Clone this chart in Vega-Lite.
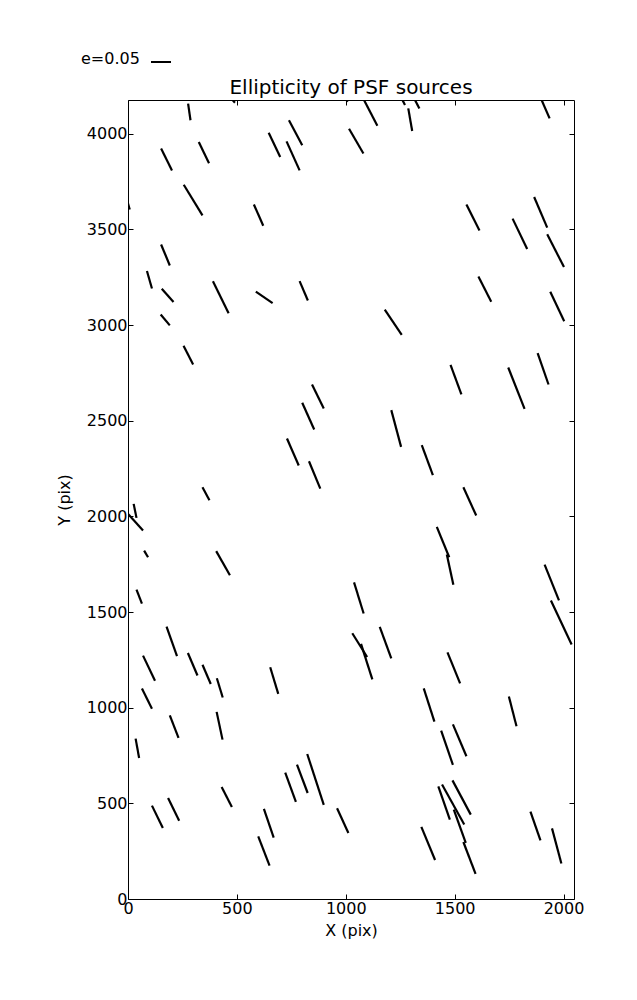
{
  "$schema": "https://vega.github.io/schema/vega-lite/v6.json",
  "autosize": "none",
  "width": 446,
  "height": 799,
  "padding": {"left": 128, "top": 100, "right": 63, "bottom": 101},
  "background": "white",
  "config": {
    "font": "DejaVu Sans",
    "view": {"stroke": "black", "strokeWidth": 1},
    "axis": {"grid": false, "domain": false, "labelFont": "DejaVu Sans", "labelFontSize": 16, "labelColor": "black", "labelFlush": false, "titleFont": "DejaVu Sans", "titleFontSize": 16, "titleFontWeight": "normal", "titleColor": "black", "tickColor": "black", "tickSize": -5, "tickWidth": 1, "format": "d"}
  },
  "title": {"text": "Ellipticity of PSF sources", "fontSize": 20, "fontWeight": "normal", "font": "DejaVu Sans", "color": "black", "anchor": "middle", "offset": 5, "dy": 52},
  "data": {"values": [
    {"x": 276, "y": 4157, "x2": 287, "y2": 4070},
    {"x": 458, "y": 4205, "x2": 491, "y2": 4162},
    {"x": 152, "y": 3923, "x2": 202, "y2": 3808},
    {"x": 325, "y": 3956, "x2": 372, "y2": 3845},
    {"x": 646, "y": 4005, "x2": 699, "y2": 3878},
    {"x": 739, "y": 4070, "x2": 800, "y2": 3940},
    {"x": 728, "y": 3960, "x2": 788, "y2": 3808},
    {"x": 256, "y": 3733, "x2": 342, "y2": 3573},
    {"x": 578, "y": 3630, "x2": 621, "y2": 3519},
    {"x": -15, "y": 3693, "x2": 8, "y2": 3604},
    {"x": 152, "y": 3421, "x2": 192, "y2": 3311},
    {"x": 987, "y": 4200, "x2": 1009, "y2": 4167},
    {"x": 1075, "y": 4195, "x2": 1145, "y2": 4042},
    {"x": 1249, "y": 4200, "x2": 1272, "y2": 4150},
    {"x": 1309, "y": 4195, "x2": 1338, "y2": 4132},
    {"x": 1287, "y": 4132, "x2": 1305, "y2": 4014},
    {"x": 1890, "y": 4200, "x2": 1936, "y2": 4080},
    {"x": 1015, "y": 4026, "x2": 1081, "y2": 3896},
    {"x": 1554, "y": 3630, "x2": 1614, "y2": 3494},
    {"x": 1865, "y": 3669, "x2": 1925, "y2": 3509},
    {"x": 1766, "y": 3556, "x2": 1833, "y2": 3397},
    {"x": 1925, "y": 3474, "x2": 2002, "y2": 3303},
    {"x": 87, "y": 3282, "x2": 110, "y2": 3191},
    {"x": 155, "y": 3190, "x2": 209, "y2": 3120},
    {"x": 390, "y": 3229, "x2": 462, "y2": 3062},
    {"x": 587, "y": 3174, "x2": 664, "y2": 3114},
    {"x": 788, "y": 3229, "x2": 826, "y2": 3128},
    {"x": 150, "y": 3055, "x2": 192, "y2": 2998},
    {"x": 255, "y": 2892, "x2": 299, "y2": 2794},
    {"x": 845, "y": 2689, "x2": 899, "y2": 2564},
    {"x": 800, "y": 2594, "x2": 855, "y2": 2454},
    {"x": 1609, "y": 3254, "x2": 1668, "y2": 3122},
    {"x": 1939, "y": 3174, "x2": 2003, "y2": 3020},
    {"x": 1179, "y": 3080, "x2": 1257, "y2": 2949},
    {"x": 1481, "y": 2792, "x2": 1531, "y2": 2637},
    {"x": 1746, "y": 2778, "x2": 1821, "y2": 2562},
    {"x": 1881, "y": 2853, "x2": 1931, "y2": 2689},
    {"x": 1209, "y": 2555, "x2": 1254, "y2": 2363},
    {"x": 730, "y": 2407, "x2": 784, "y2": 2266},
    {"x": 831, "y": 2288, "x2": 883, "y2": 2145},
    {"x": 342, "y": 2152, "x2": 374, "y2": 2084},
    {"x": 26, "y": 2065, "x2": 39, "y2": 1992},
    {"x": -10, "y": 2026, "x2": 69, "y2": 1926},
    {"x": 74, "y": 1821, "x2": 92, "y2": 1786},
    {"x": 405, "y": 1818, "x2": 468, "y2": 1692},
    {"x": 1349, "y": 2372, "x2": 1400, "y2": 2215},
    {"x": 1540, "y": 2152, "x2": 1599, "y2": 2004},
    {"x": 1418, "y": 1945, "x2": 1475, "y2": 1786},
    {"x": 1464, "y": 1800, "x2": 1494, "y2": 1643},
    {"x": 1913, "y": 1748, "x2": 1979, "y2": 1561},
    {"x": 39, "y": 1617, "x2": 64, "y2": 1544},
    {"x": 177, "y": 1424, "x2": 225, "y2": 1269},
    {"x": 69, "y": 1272, "x2": 124, "y2": 1141},
    {"x": 275, "y": 1286, "x2": 319, "y2": 1168},
    {"x": 342, "y": 1224, "x2": 380, "y2": 1124},
    {"x": 408, "y": 1154, "x2": 435, "y2": 1053},
    {"x": 653, "y": 1211, "x2": 690, "y2": 1072},
    {"x": 64, "y": 1100, "x2": 110, "y2": 994},
    {"x": 192, "y": 960, "x2": 232, "y2": 842},
    {"x": 407, "y": 978, "x2": 434, "y2": 833},
    {"x": 1942, "y": 1560, "x2": 2037, "y2": 1330},
    {"x": 1038, "y": 1655, "x2": 1082, "y2": 1492},
    {"x": 1030, "y": 1389, "x2": 1098, "y2": 1265},
    {"x": 1070, "y": 1333, "x2": 1122, "y2": 1148},
    {"x": 1156, "y": 1422, "x2": 1209, "y2": 1257},
    {"x": 1467, "y": 1289, "x2": 1525, "y2": 1127},
    {"x": 1358, "y": 1101, "x2": 1407, "y2": 927},
    {"x": 1749, "y": 1058, "x2": 1784, "y2": 903},
    {"x": 1438, "y": 880, "x2": 1492, "y2": 701},
    {"x": 1492, "y": 913, "x2": 1554, "y2": 746},
    {"x": 35, "y": 838, "x2": 51, "y2": 737},
    {"x": 110, "y": 488, "x2": 160, "y2": 371},
    {"x": 184, "y": 528, "x2": 235, "y2": 409},
    {"x": 430, "y": 586, "x2": 477, "y2": 481},
    {"x": 624, "y": 471, "x2": 669, "y2": 321},
    {"x": 598, "y": 327, "x2": 650, "y2": 174},
    {"x": 722, "y": 660, "x2": 771, "y2": 507},
    {"x": 776, "y": 702, "x2": 825, "y2": 554},
    {"x": 823, "y": 758, "x2": 899, "y2": 492},
    {"x": 960, "y": 474, "x2": 1012, "y2": 345},
    {"x": 1425, "y": 589, "x2": 1478, "y2": 415},
    {"x": 1442, "y": 598, "x2": 1544, "y2": 389},
    {"x": 1490, "y": 620, "x2": 1574, "y2": 441},
    {"x": 1496, "y": 467, "x2": 1551, "y2": 293},
    {"x": 1540, "y": 298, "x2": 1596, "y2": 131},
    {"x": 1347, "y": 377, "x2": 1410, "y2": 204},
    {"x": 1848, "y": 457, "x2": 1894, "y2": 306},
    {"x": 1947, "y": 369, "x2": 1990, "y2": 186}
  ]},
  "layer": [
    {
      "mark": {"type": "rule", "clip": true, "strokeWidth": 2.2, "strokeCap": "butt"},
      "encoding": {
        "x": {"field": "x", "type": "quantitative", "scale": {"domain": [0, 2048], "nice": false, "zero": false},
              "axis": {"orient": "bottom", "values": [0, 500, 1000, 1500, 2000], "title": "X (pix)", "labelPadding": 6, "titlePadding": 6}},
        "y": {"field": "y", "type": "quantitative", "scale": {"domain": [0, 4176], "nice": false, "zero": false},
              "axis": {"orient": "left", "values": [0, 500, 1000, 1500, 2000, 2500, 3000, 3500, 4000], "title": "Y (pix)", "labelPadding": 6, "titlePadding": 14}},
        "x2": {"field": "x2"},
        "y2": {"field": "y2"},
        "color": {"datum": "e=0.05", "type": "nominal", "scale": {"range": ["#000000"]},
                  "legend": {"orient": "none", "legendX": -47, "legendY": -49, "title": "e=0.05", "titleOrient": "left", "titleFontSize": 16, "titleFontWeight": "normal", "titleColor": "black", "titleFont": "DejaVu Sans", "titlePadding": 10, "labelExpr": "''", "symbolType": "stroke", "symbolSize": 400, "symbolStrokeWidth": 2, "symbolStrokeColor": "black"}}
      }
    },
    {
      "mark": {"type": "rule", "clip": true, "opacity": 0},
      "encoding": {
        "x": {"field": "x", "type": "quantitative", "axis": {"orient": "top", "values": [0, 500, 1000, 1500, 2000], "labels": false, "title": null}},
        "y": {"field": "y", "type": "quantitative", "axis": {"orient": "right", "values": [0, 500, 1000, 1500, 2000, 2500, 3000, 3500, 4000], "labels": false, "title": null}},
        "x2": {"field": "x2"},
        "y2": {"field": "y2"}
      }
    }
  ],
  "resolve": {"axis": {"x": "independent", "y": "independent"}}
}
